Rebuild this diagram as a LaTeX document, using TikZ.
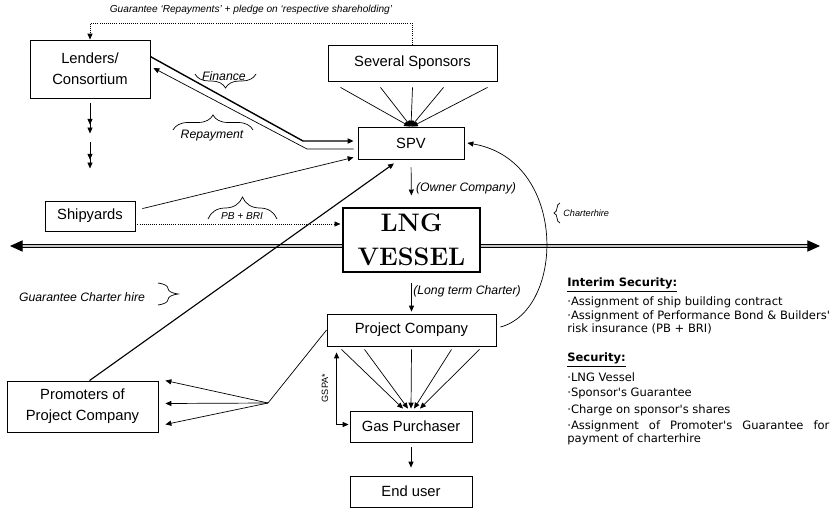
\documentclass[tikz,border=0pt]{standalone}
\usepackage{fontspec}
\newfontfamily\arialfont{Liberation Sans}
\newfontfamily\notefont{DejaVu Sans}
\usetikzlibrary{arrows.meta,calc,decorations.pathreplacing}
\tikzset{
  box/.style={draw, line width=0.6pt, inner sep=0pt, align=center, font=\arialfont\fontsize{10.5}{15}\selectfont},
  lbl/.style={inner sep=0pt, font=\arialfont\itshape\fontsize{8.7}{10}\selectfont},
  note/.style={anchor=west, inner sep=0pt, align=left, font=\notefont\fontsize{8.2}{9.4}\selectfont},
  brc/.style={decorate, decoration={brace, amplitude=#1}},
  dotln/.style={densely dotted},
  dbl/.style={double=gray!45, double distance=1.3pt, line width=0.7pt, -{Triangle[length=9pt,width=8pt]}},
  dblhead/.style={-{Triangle[length=4.2pt,width=3.6pt,sep=2pt]Triangle[length=4.2pt,width=3.6pt]}},
  >={Triangle[length=4.2pt,width=3.6pt]},
}
\begin{document}
\begin{tikzpicture}[x=0.025cm, y=-0.025cm, line width=0.5pt]
  \useasboundingbox (0,0) rectangle (832,511);
  % parties
  \node[box, minimum width=3cm, minimum height=1.45cm] (lenders) at (90,69) {Lenders/\\Consortium};
  \node[box, minimum width=4.225cm, minimum height=0.9cm] (sponsors) at (412.5,63) {Several Sponsors};
  \node[box, minimum width=2.65cm, minimum height=0.8cm] (spv) at (411,143) {SPV};
  \node[box, minimum width=3.425cm, minimum height=1.6cm, line width=0.8pt, font=\bfseries\fontsize{18}{24}\selectfont] (lng) at (411.5,240) {LNG\\VESSEL};
  \node[box, minimum width=2.25cm, minimum height=0.75cm] (shipyards) at (90,216) {Shipyards};
  \node[box, minimum width=4.225cm, minimum height=0.8cm] (projco) at (411.5,330) {Project Company};
  \node[box, minimum width=3.05cm, minimum height=0.775cm] (gas) at (411,426.5) {Gas Purchaser};
  \node[box, minimum width=3.05cm, minimum height=0.775cm] (enduser) at (411,491.5) {End user};
  \node[box, minimum width=3.775cm, minimum height=1.275cm] (promoters) at (82.5,406.5) {Promoters of\\Project Company};
  \coordinate (wend) at (10,246);
  \coordinate (eend) at (820,246);
  \coordinate (hub) at (268,403);

  % guarantee from sponsors to lenders
  \draw[dotln,->] (sponsors.north) -- ++(0,-21) -| (lenders.north);
  \node[lbl, font=\arialfont\itshape\fontsize{7.2}{8}\selectfont] (guar) at (251,10) {Guarantee ‘Repayments’ + pledge on ‘respective shareholding’};
  \draw[dblhead] ($(lenders.south)+(0,5)$) -- ++(0,30);
  \draw[dblhead] ($(lenders.south)+(0,44)$) -- ++(0,26);

  % finance and repayment
  \draw[line width=1pt,->] ($(lenders.north east)+(0,17)$) -- (303,141) -- ($(spv.west)+(-4,-2)$);
  \draw[->] ($(spv.west)+(-4,6)$) -- (307,149) -- ($(lenders.east)+(3,-1)$);
  \draw[brc=0.35cm] (256,74) -- (195,74);
  \node[lbl] (fin) at (224,76) {Finance};
  \draw[brc=0.375cm] (173,130) -- (253,130);
  \node[lbl] (rep) at (212,136) {Repayment};

  % shipyards
  \draw[->] ($(shipyards.north east)+(7,8)$) -- ($(spv.south west)+(-4,-2)$);
  \draw[dotln,->] ($(shipyards.east)+(2,8)$) -- ($(lng.west)+(-2,-16)$);
  \draw[brc=0.55cm] (208,219) -- (277,219);
  \node[lbl, font=\arialfont\itshape\fontsize{7.2}{8}\selectfont] (pbbri) at (242,216) {PB + BRI};

  \draw[dbl] ($(lng.west)+(0,6)$) -- (wend);
  \draw[dbl] ($(lng.east)+(0,6)$) -- (eend);

  % sponsors to SPV
  \foreach \a/\b in {-72/-1,-32/0,0/0,31/0,75/1}
    \draw[->] ($(sponsors.south)+(\a,6)$) -- ($(spv.north)+(\b,0)$);
  \draw[->, shorten <=0.2cm, shorten >=0.3cm] (spv.south) -- (lng.north);
  \node[lbl] (owner) at (466,188) {(Owner Company)};
  \draw[->, shorten <=0.25cm, shorten >=0.05cm] (lng.south) -- (projco.north);
  \node[lbl] (ltc) at (467,291) {(Long term Charter)};

  % charterhire back to SPV
  \draw[->] ($(projco.east)+(4,-3)$) .. controls (565,310) and (568,160) .. ($(spv.east)+(3,0)$);
  \draw[brc=0.15cm] (560,223) -- (560,203);
  \node[lbl, anchor=west, font=\arialfont\itshape\fontsize{6.5}{7}\selectfont] (chh) at (563,213) {Charterhire};

  % promoters
  \draw[line width=0.8pt,->] ($(promoters.north)+(7,0)$) -- ($(spv.south)+(-17,4)$);
  \draw[brc=0.5cm] (158,283) -- (158,305);
  \node[lbl] (gch) at (82,297) {Guarantee Charter hire};
  \draw (projco.west) -- (hub);
  \foreach \p/\dx/\dy in {north east/7/0, east/7/-3, south east/7/-8}
    \draw[->] (hub) -- ($(promoters.\p)+(\dx,\dy)$);

  % project company to gas purchaser
  \foreach \a/\b in {-70/-8,-47/-3,0/0,40/3,68/9}
    \draw[->] ($(projco.south)+(\a,3)$) -- ($(gas.north)+(\b,-2)$);
  \draw[<->] ($(projco.south west)+(10,6)$) |- ($(gas.west)+(-1,-2)$);
  \node[lbl, rotate=90, font=\arialfont\fontsize{6.5}{7}\selectfont] (gspa) at (325,388) {GSPA*};
  \draw[->] ($(gas.south)+(0,5)$) -- ($(enduser.north)+(0,-8)$);

  % security notes
  \node[note] (interim) at (567,285) {\textbf{\underline{Interim Security:}}};
  \node[note] (n1) at (567,302) {·Assignment of ship building contract};
  \node[note] (n2) at (567,322) {·Assignment of Performance Bond \& Builders'\\risk insurance (PB + BRI)};
  \node[note] (sec) at (567,360) {\textbf{\underline{Security:}}};
  \node[note] (n3) at (567,377) {·LNG Vessel};
  \node[note] (n4) at (567,393) {·Sponsor's Guarantee};
  \node[note] (n5) at (567,410) {·Charge on sponsor's shares};
  \node[note] (n6) at (567,433) {\makebox[6.55cm][s]{·Assignment of Promoter's Guarantee for}\\payment of charterhire};
\end{tikzpicture}
\end{document}
